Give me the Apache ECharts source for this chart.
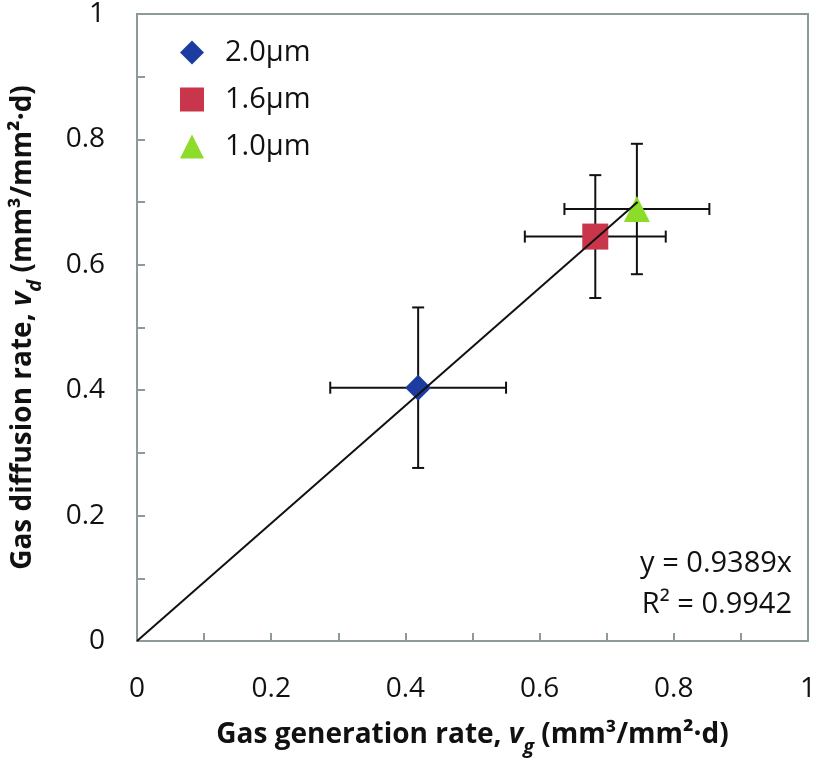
<!DOCTYPE html>
<html><head><meta charset="utf-8">
<script src="https://cdn.jsdelivr.net/npm/echarts@6/dist/echarts.min.js"></script>
<style>html,body{margin:0;padding:0;background:#fff}#c{width:819px;height:762px}</style>
</head><body><div id="c"></div>
<script>
const seriesNames = ['2.0μm', '1.6μm', '1.0μm'];
const xVals = [0.419, 0.683, 0.745];
const yVals = [0.404, 0.645, 0.689];
const xErr = [0.131, 0.105, 0.108];
const yErr = [0.128, 0.098, 0.104];
const trendX = [0, 0.746];
const trendY = [0, 0.700];
const xTicks = [0, 0.2, 0.4, 0.6, 0.8, 1];
const yTicks = [0, 0.2, 0.4, 0.6, 0.8, 1];
const eqLines = ['y = 0.9389x', 'R² = 0.9942'];

const colors = ['#1c3c9f', '#c9364b', '#8ddc2a'];
const symbols = ['diamond', 'rect', 'triangle'];
const FONT = '"Open Sans"';
const axisColor = '#8b9b9b';

const chart = echarts.init(document.getElementById('c'));
const errData = xVals.map((x, i) => [x, yVals[i], xErr[i], yErr[i]]);

const axisCommon = {
  min: 0, max: 1, interval: 0.2,
  axisLine: {show: true, lineStyle: {color: axisColor, width: 2}},
  axisTick: {show: true, inside: true, length: 8, lineStyle: {color: axisColor, width: 2}},
  minorTick: {show: true, splitNumber: 2, length: 8, lineStyle: {color: axisColor, width: 2}},
  splitLine: {show: false},
  axisLabel: {fontFamily: FONT, fontSize: 28, color: '#111',
    formatter: v => String(+v.toFixed(1))}
};

const titleRich = {
  b: {fontFamily: FONT, fontSize: 28, fontWeight: 'bold', color: '#111'},
  i: {fontFamily: FONT, fontSize: 28, fontWeight: 'bold', fontStyle: 'italic', color: '#111'},
  s: {fontFamily: FONT, fontSize: 20, fontWeight: 'bold', fontStyle: 'italic', color: '#111', verticalAlign: 'bottom', padding: [0,0,-8,0]}
};

const option = {
  backgroundColor: '#fff',
  animation: false,
  grid: {left: 137, right: 8, top: 12, bottom: 120, show: true, borderColor: axisColor, borderWidth: 2},
  legend: {
    orient: 'vertical', left: 175, top: 33, itemGap: 18, itemWidth: 24, itemHeight: 24,
    data: seriesNames.map((n, i) => ({name: n, icon: symbols[i]})),
    textStyle: {fontFamily: FONT, fontSize: 29, color: '#111', padding: [0,0,0,16]}
  },
  xAxis: Object.assign({}, axisCommon, {
    type: 'value', position: 'bottom',
    axisLabel: Object.assign({}, axisCommon.axisLabel, {margin: 34}),
    name: '{b|Gas generation rate, }{i|v}{s|g}{b| (mm³/mm²·d)}',
    nameLocation: 'middle', nameGap: 80,
    nameTextStyle: {rich: titleRich}
  }),
  yAxis: Object.assign({}, axisCommon, {
    type: 'value', position: 'left',
    axisLabel: Object.assign({}, axisCommon.axisLabel, {margin: 32}),
    name: '{b|Gas diffusion rate, }{i|v}{s|d}{b| (mm³/mm²·d)}',
    nameLocation: 'middle', nameGap: 100, nameRotate: 90,
    nameTextStyle: {rich: titleRich}
  }),
  series: [
    {
      type: 'custom', name: 'err', z: 2, silent: true,
      data: errData,
      renderItem: function (params, api) {
        const x = api.value(0), y = api.value(1), ex = api.value(2), ey = api.value(3);
        const c = api.coord([x, y]);
        const l = api.coord([x - ex, y]), r = api.coord([x + ex, y]);
        const t = api.coord([x, y + ey]), b = api.coord([x, y - ey]);
        const cap = 6;
        const st = {stroke: '#111', lineWidth: 2};
        const ln = (x1, y1, x2, y2) => ({type: 'line', shape: {x1, y1, x2, y2}, style: st});
        return {type: 'group', children: [
          ln(l[0], c[1], r[0], c[1]),
          ln(l[0], c[1] - cap, l[0], c[1] + cap),
          ln(r[0], c[1] - cap, r[0], c[1] + cap),
          ln(c[0], t[1], c[0], b[1]),
          ln(c[0] - cap, t[1], c[0] + cap, t[1]),
          ln(c[0] - cap, b[1], c[0] + cap, b[1])
        ]};
      }
    },
    ...seriesNames.map((n, i) => ({
      type: 'scatter', name: n, z: 3,
      symbol: symbols[i], symbolSize: [26, 26],
      itemStyle: {color: colors[i], opacity: 1},
      data: [[xVals[i], yVals[i]]]
    })),
    {
      type: 'line', name: 'trend', z: 4, silent: true, symbol: 'none',
      lineStyle: {color: '#111', width: 2},
      data: trendX.map((x, i) => [x, trendY[i]])
    }
  ],
  graphic: [
    {type: 'text', right: 27, top: 549, style: {text: eqLines[0], font: '29px ' + FONT, fill: '#111', textAlign: 'right'}},
    {type: 'text', right: 27, top: 590, style: {text: eqLines[1], font: '29px ' + FONT, fill: '#111', textAlign: 'right'}}
  ]
};
chart.setOption(option);
</script></body></html>
